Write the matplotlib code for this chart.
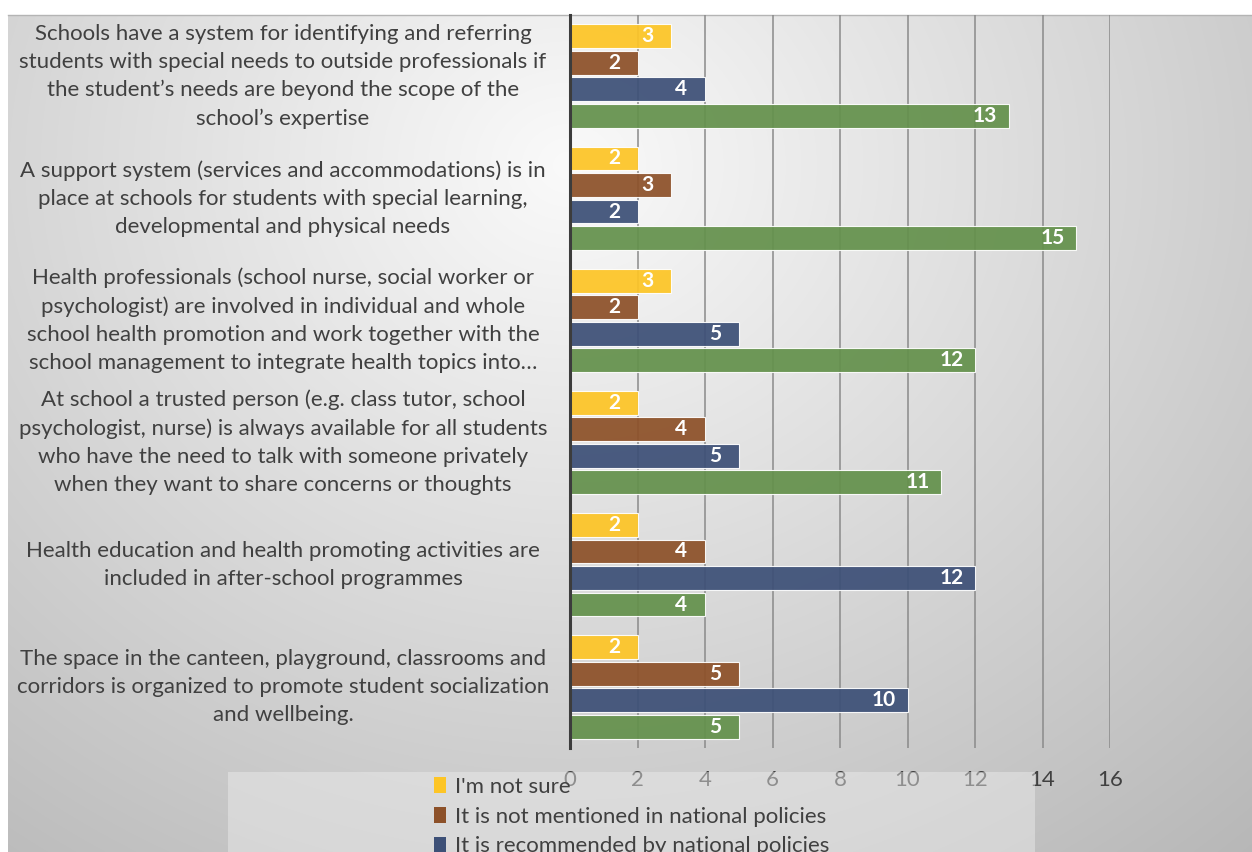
import numpy as np
import matplotlib
matplotlib.use("Agg")
import matplotlib.pyplot as plt
import matplotlib.transforms as mtransforms
from matplotlib.patches import Patch, Rectangle

plt.rcParams['font.family'] = ['Lato', 'DejaVu Sans']

categories = [
    "Schools have a system for identifying and referring\nstudents with special needs to outside professionals if\nthe student\u2019s needs are beyond the scope of the\nschool\u2019s expertise",
    "A support system (services and accommodations) is in\nplace at schools for students with special learning,\ndevelopmental and physical needs",
    "Health professionals (school nurse, social worker or\npsychologist) are involved in individual and whole\nschool health promotion and work together with the\nschool management to integrate health topics into\u2026",
    "At school a trusted person (e.g. class tutor, school\npsychologist, nurse) is always available for all students\nwho have the need to talk with someone privately\nwhen they want to share concerns or thoughts",
    "Health education and health promoting activities are\nincluded in after-school programmes",
    "The space in the canteen, playground, classrooms and\ncorridors is organized to promote student socialization\nand wellbeing.",
]
series_names = [
    "I'm not sure",
    "It is not mentioned in national policies",
    "It is recommended by national policies",
]
not_sure = [3, 2, 3, 2, 2, 2]
not_mentioned = [2, 3, 2, 4, 4, 5]
recommended = [4, 2, 5, 5, 12, 10]
required = [13, 15, 12, 11, 4, 5]
xticks = [0, 2, 4, 6, 8, 10, 12, 14, 16]

colors = ["#fdc526", "#8d5129", "#3d5077", "#64914c"]
series = [not_sure, not_mentioned, recommended, required]

W, H = 1252, 852
fig = plt.figure(figsize=(W / 100, H / 100), dpi=100)
fig.patch.set_facecolor("white")

# background panel with gradient
bg = fig.add_axes([8 / W, 0, 1 - 8 / W, (H - 15) / H], zorder=-10)
ph, pw = H - 15, W - 8
yy, xx = np.mgrid[0:ph, 0:pw]
r = np.sqrt(((xx - 560) / 900.0) ** 2 + ((yy - 150) / 800.0) ** 2)
val = 250 - 58 * np.clip(r, 0, 1.2)
img = np.dstack([val, val, val]) / 255.0
bg.imshow(img, aspect="auto", extent=[0, 1, 0, 1], interpolation="bilinear")
bg.set_xlim(0, 1)
bg.set_ylim(0, 1)
bg.set_xticks([])
bg.set_yticks([])
for s in ["left", "right", "bottom"]:
    bg.spines[s].set_visible(False)
bg.spines["top"].set_color("#b4b4b4")
bg.spines["top"].set_linewidth(1.0)

# main axes
ax = fig.add_axes([570 / W, (H - 748) / H, 540 / W, 733 / H])
ax.set_facecolor("none")
n = len(categories)
y = np.arange(n)
pitch = 0.217
bh = 0.196
for i, (vals, c) in enumerate(zip(series, colors)):
    pos = y + (i - 1.5) * pitch
    ax.barh(pos, vals, height=bh, color=c, alpha=0.93, edgecolor=(1, 1, 1, 0.6),
            linewidth=0.8, zorder=3)
    for p, v in zip(pos, vals):
        ax.annotate(str(v), xy=(v, p), xytext=(-17, 0), textcoords="offset points",
                    ha="center", va="center", color="white", fontsize=15,
                    fontweight="bold", zorder=5)

ax.set_xlim(0, 16)
ax.set_ylim(n - 0.5, -0.5)
ax.set_yticks([])
ax.set_xticks(xticks)
ax.set_xticklabels([str(t) for t in xticks])
ax.tick_params(axis="x", length=0, pad=16, labelsize=16, labelcolor="#404040")
ax.grid(axis="x", color="#8a8a8a", linewidth=1.1, zorder=1)
ax.set_axisbelow(True)
for s in ["top", "right", "bottom"]:
    ax.spines[s].set_visible(False)
ax.spines["left"].set_color("#3c3c3c")
ax.spines["left"].set_linewidth(2.2)
ax.spines["left"].set_zorder(6)

# category labels
trans = mtransforms.blended_transform_factory(fig.transFigure, ax.transData)
for yi, lab in zip(y, categories):
    fig.text(283 / W, yi, lab, transform=trans, ha="center", va="center",
             multialignment="center", fontsize=16, color="#404040", linespacing=1.5)

# legend box
fig.patches.append(Rectangle((228 / W, 0), (1035 - 228) / W, (H - 772) / H,
                             transform=fig.transFigure, facecolor="#eeeeee",
                             alpha=0.45, edgecolor="none", zorder=5))
handles = [Patch(facecolor=c, edgecolor="none") for c in colors[:3]]
leg = fig.legend(handles, series_names, loc="upper left",
                 bbox_to_anchor=(434 / W, 1 - 777 / H), frameon=False, fontsize=16,
                 handlelength=0.55, handleheight=0.7, handletextpad=0.4,
                 labelspacing=0.43, borderpad=0, borderaxespad=0)
leg.set_zorder(6)
for t in leg.get_texts():
    t.set_color("#404040")

fig.savefig("out.png", dpi=100)
